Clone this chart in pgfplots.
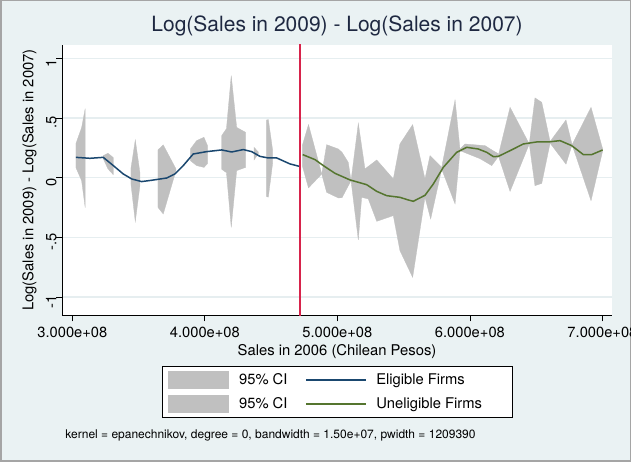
\documentclass[border=0pt]{standalone}
\usepackage{pgfplots}
\pgfplotsset{compat=1.18}
\usepackage{fontspec}
\setmainfont{TeX Gyre Heros}
\definecolor{bgc}{RGB}{234,242,243}
\definecolor{gridc}{RGB}{230,238,240}
\definecolor{bordc}{RGB}{165,165,165}
\definecolor{ciGray}{RGB}{192,192,192}
\definecolor{navyc}{RGB}{26,71,111}
\definecolor{greenc}{RGB}{85,117,47}
\definecolor{redc}{RGB}{215,35,75}
\definecolor{titlec}{RGB}{30,40,65}
\begin{document}
\begin{tikzpicture}[x=1pt,y=1pt]
\useasboundingbox (0,0) rectangle (631,461);
\clip (0,0) rectangle (631,461);
\fill[bgc] (0,0) rectangle (631,461);
\draw[bordc, line width=3pt] (0,0) rectangle (631,461);
\begin{axis}[
  at={(62.4pt,145.7pt)}, anchor=south west,
  scale only axis, width=549.3pt, height=270.3pt,
  xmin=2.925e8, xmax=7.07e8, ymin=-1.153, ymax=1.111,
  scaled x ticks=false, scaled y ticks=false,
  axis background/.style={fill=white},
  axis x line*=bottom, axis y line*=left,
  every non boxed x axis/.append style={x axis line style={-}},
  every non boxed y axis/.append style={y axis line style={-}},
  axis line style={-, black, line width=1pt},
  tick pos=left, tick align=outside, major tick length=6pt,
  tick style={black, line width=0.8pt},
  xtick={3e8,4e8,5e8,6e8,7e8},
  xticklabels={3.000e+08,4.000e+08,5.000e+08,6.000e+08,7.000e+08},
  ytick={-1,-0.5,0,0.5,1},
  yticklabels={-1,-.5,0,.5,1},
  ticklabel style={font=\fontsize{14.7}{16}\selectfont},
  xticklabel style={anchor=base, yshift=-15.7pt},
  yticklabel style={rotate=90, anchor=base, xshift=-4.7pt},
  ymajorgrids, major grid style={gridc, line width=1.2pt},
  title={Log(Sales in 2009) - Log(Sales in 2007)},
  title style={at={(axis description cs:0.5,1.0285)}, anchor=base, font=\fontsize{21}{25}\selectfont, color=titlec},
  xlabel={Sales in 2006 (Chilean Pesos)},
  xlabel style={at={(axis description cs:0.5,-0.1469)}, anchor=base, font=\fontsize{14.8}{16}\selectfont},
  ylabel={Log(Sales in 2009) - Log(Sales in 2007)},
  ylabel style={at={(axis description cs:-0.053,0.5)}, anchor=base, rotate=0, font=\fontsize{14.8}{16}\selectfont},
  legend columns=2,
  legend style={at={(axis description cs:0.5,-0.2838)}, anchor=center, draw=black, line width=0.8pt, fill=white,
    inner xsep=6pt, inner ysep=5pt, row sep=6.6pt, column sep=0pt, cells={anchor=west}, nodes={inner sep=0pt},
    font=\fontsize{14.75}{16}\selectfont},
]
% Eligible firms CI
\addplot[fill=ciGray, draw=ciGray, line width=0.3pt, forget plot] coordinates {(3.027e8,0.285) (3.070e8,0.419) (3.097e8,0.578) (3.097e8,-0.251) (3.070e8,-0.025) (3.027e8,0.084)} -- cycle;
\addplot[fill=ciGray, draw=ciGray, line width=0.3pt, forget plot] coordinates {(3.233e8,0.184) (3.269e8,0.204) (3.309e8,0.168) (3.309e8,0.025) (3.269e8,0.073) (3.233e8,0.159)} -- cycle;
\addplot[fill=ciGray, draw=ciGray, line width=0.3pt, forget plot] coordinates {(3.442e8,0.075) (3.475e8,0.316) (3.510e8,0.042) (3.510e8,-0.067) (3.475e8,-0.369) (3.442e8,-0.050)} -- cycle;
\addplot[fill=ciGray, draw=ciGray, line width=0.3pt, forget plot] coordinates {(3.646e8,0.232) (3.686e8,0.274) (3.782e8,0.073) (3.782e8,0.059) (3.686e8,-0.304) (3.646e8,-0.249)} -- cycle;
\addplot[fill=ciGray, draw=ciGray, line width=0.3pt, forget plot] coordinates {(3.891e8,0.240) (3.938e8,0.310) (3.993e8,0.338) (4.020e8,0.268) (4.020e8,0.117) (3.993e8,0.086) (3.938e8,0.101) (3.891e8,0.142)} -- cycle;
\addplot[fill=ciGray, draw=ciGray, line width=0.3pt, forget plot] coordinates {(4.127e8,0.352) (4.163e8,0.410) (4.199e8,0.854) (4.240e8,0.421) (4.308e8,0.379) (4.308e8,0.086) (4.240e8,0.059) (4.199e8,-0.416) (4.163e8,0.042) (4.127e8,0.070)} -- cycle;
\addplot[fill=ciGray, draw=ciGray, line width=0.3pt, forget plot] coordinates {(4.371e8,0.254) (4.403e8,0.215) (4.403e8,0.200) (4.371e8,0.148)} -- cycle;
\addplot[fill=ciGray, draw=ciGray, line width=0.3pt, forget plot] coordinates {(4.466e8,0.483) (4.479e8,0.486) (4.512e8,0.226) (4.512e8,0.126) (4.479e8,-0.163) (4.466e8,-0.159)} -- cycle;
% Uneligible firms CI
\addplot[fill=ciGray, draw=ciGray, line width=0.3pt, forget plot] coordinates {(4.735e8,0.268) (4.782e8,0.444) (4.882e8,0.031) (4.782e8,-0.086) (4.735e8,0.101)} -- cycle;
\addplot[fill=ciGray, draw=ciGray, line width=0.3pt, forget plot] coordinates {(4.882e8,0.031) (4.919e8,0.276) (5.007e8,0.240) (5.035e8,0.212) (5.082e8,0.128) (5.103e8,-0.025) (5.035e8,-0.168) (5.007e8,-0.170) (4.919e8,-0.123)} -- cycle;
\addplot[fill=ciGray, draw=ciGray, line width=0.3pt, forget plot] coordinates {(5.103e8,-0.025) (5.158e8,0.455) (5.208e8,0.073) (5.297e8,0.148) (5.422e8,-0.011) (5.472e8,0.282) (5.568e8,0.444) (5.661e8,-0.011) (5.699e8,0.184) (5.787e8,0.086) (5.787e8,0.071) (5.704e8,-0.346) (5.661e8,-0.165) (5.568e8,-0.835) (5.472e8,-0.611) (5.422e8,-0.318) (5.297e8,-0.366) (5.233e8,-0.178) (5.183e8,-0.165) (5.158e8,-0.522)} -- cycle;
\addplot[fill=ciGray, draw=ciGray, line width=0.3pt, forget plot] coordinates {(5.787e8,0.086) (5.888e8,0.651) (5.925e8,0.240) (5.925e8,0.226) (5.888e8,-0.220) (5.787e8,0.071)} -- cycle;
\addplot[fill=ciGray, draw=ciGray, line width=0.3pt, forget plot] coordinates {(5.925e8,0.240) (5.963e8,0.282) (6.114e8,0.268) (6.174e8,0.226) (6.214e8,0.201) (6.214e8,0.176) (6.165e8,0.101) (6.076e8,0.159) (5.963e8,0.209) (5.925e8,0.226)} -- cycle;
\addplot[fill=ciGray, draw=ciGray, line width=0.3pt, forget plot] coordinates {(6.214e8,0.184) (6.303e8,0.589) (6.448e8,0.282) (6.303e8,-0.115)} -- cycle;
\addplot[fill=ciGray, draw=ciGray, line width=0.3pt, forget plot] coordinates {(6.448e8,0.282) (6.491e8,0.668) (6.542e8,0.631) (6.605e8,0.302) (6.605e8,0.289) (6.542e8,-0.048) (6.491e8,-0.067)} -- cycle;
\addplot[fill=ciGray, draw=ciGray, line width=0.3pt, forget plot] coordinates {(6.605e8,0.302) (6.725e8,0.483) (6.771e8,0.276) (6.725e8,0.113) (6.605e8,0.289)} -- cycle;
\addplot[fill=ciGray, draw=ciGray, line width=0.3pt, forget plot] coordinates {(6.771e8,0.276) (6.914e8,0.589) (7.002e8,0.239) (7.002e8,0.226) (6.914e8,-0.193)} -- cycle;
% Eligible firms fit
\addplot[navyc, line width=1.5pt, forget plot] coordinates {(3.027e8,0.170) (3.133e8,0.162) (3.233e8,0.170) (3.309e8,0.101) (3.384e8,0.031) (3.448e8,-0.011) (3.523e8,-0.033) (3.598e8,-0.022) (3.712e8,-0.003) (3.774e8,0.031) (3.837e8,0.101) (3.912e8,0.198) (4.014e8,0.218) (4.127e8,0.232) (4.202e8,0.215) (4.290e8,0.235) (4.353e8,0.218) (4.416e8,0.178) (4.478e8,0.165) (4.542e8,0.165) (4.642e8,0.115) (4.712e8,0.095)};
% Uneligible firms fit
\addplot[greenc, line width=1.5pt, forget plot] coordinates {(4.738e8,0.193) (4.831e8,0.151) (4.894e8,0.101) (4.982e8,0.036) (5.095e8,-0.019) (5.221e8,-0.059) (5.297e8,-0.115) (5.372e8,-0.151) (5.472e8,-0.165) (5.535e8,-0.187) (5.573e8,-0.198) (5.661e8,-0.148) (5.724e8,-0.053) (5.799e8,0.086) (5.900e8,0.212) (5.976e8,0.254) (6.063e8,0.240) (6.127e8,0.212) (6.177e8,0.176) (6.214e8,0.178) (6.303e8,0.226) (6.403e8,0.282) (6.504e8,0.299) (6.592e8,0.299) (6.680e8,0.310) (6.768e8,0.268) (6.856e8,0.193) (6.919e8,0.193) (7.002e8,0.232)};
% cutoff line
\addplot[redc, line width=1.5pt, forget plot] coordinates {(4.716e8,-1.2) (4.716e8,1.2)};
% legend
\addlegendimage{legend image code/.code={\fill[ciGray] (0pt,-8.35pt) rectangle (60pt,8.35pt);}}
\addlegendentry{\makebox[76.6pt][l]{\hspace{10.4pt}95\% CI}}
\addlegendimage{legend image code/.code={\draw[navyc, line width=1.5pt] (0pt,0pt) -- (60pt,0pt);}}
\addlegendentry{\makebox[139.4pt][l]{\hspace{9.5pt}Eligible Firms}}
\addlegendimage{legend image code/.code={\fill[ciGray] (0pt,-8.35pt) rectangle (60pt,8.35pt);}}
\addlegendentry{\makebox[76.6pt][l]{\hspace{10.4pt}95\% CI}}
\addlegendimage{legend image code/.code={\draw[greenc, line width=1.5pt] (0pt,0pt) -- (60pt,0pt);}}
\addlegendentry{\makebox[139.4pt][l]{\hspace{9.5pt}Uneligible Firms}}
\end{axis}
\node[anchor=base west, font=\fontsize{12}{14}\selectfont, inner sep=0pt] at (65.2,23) {kernel = epanechnikov, degree = 0, bandwidth = 1.50e+07, pwidth = 1209390};
\end{tikzpicture}
\end{document}
